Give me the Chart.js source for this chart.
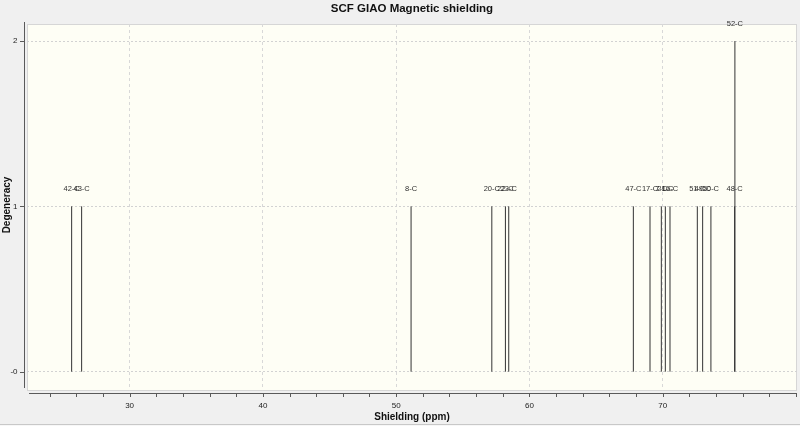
<!DOCTYPE html>
<html>
<head>
<meta charset="utf-8">
<script src="https://cdn.jsdelivr.net/npm/chart.js@4.4.1/dist/chart.umd.min.js"></script>
<style>
html,body{margin:0;padding:0;background:#f0f0f0;}
#wrap{width:800px;height:426px;position:relative;}
canvas{display:block;}
</style>
</head>
<body>
<div id="wrap"><canvas id="c" width="800" height="426"></canvas></div>
<script>
// ---- data ----
const atomLabels = ["42-C","43-C","8-C","20-C","22-C","23-C","47-C","17-C","7-C","21-C","16-C","51-C","49-C","50-C","48-C","52-C"];
const shieldings = [25.65,26.4,51.12,57.18,58.2,58.45,67.8,69.05,69.9,70.2,70.55,72.6,73.0,73.62,75.4,75.42];
const degeneracy = [1,1,1,1,1,1,1,1,1,1,1,1,1,1,1,2];
const xTickLabels = [30,40,50,60,70];
const yTickLabels = [0,1,2];
const yTickText = ["-0","1","2"];

const titleText = "SCF GIAO Magnetic shielding";
const xTitle = "Shielding (ppm)";
const yTitle = "Degeneracy";

// stick segments built from the arrays (null breaks the line between sticks)
const stickData = [];
shieldings.forEach((s, i) => {
  stickData.push({x: s, y: 0});
  stickData.push({x: s, y: degeneracy[i]});
  stickData.push({x: s, y: null});
});

const FONT = '"Liberation Sans", Arial, sans-serif';

const decor = {
  id: 'decor',
  beforeDraw(chart) {
    const {ctx, chartArea: a} = chart;
    ctx.save();
    ctx.fillStyle = '#f0f0f0';
    ctx.fillRect(0, 0, chart.width, chart.height);
    ctx.fillStyle = '#fefef5';
    ctx.fillRect(a.left, a.top, a.right - a.left, a.bottom - a.top);
    ctx.strokeStyle = '#d6d6d6';
    ctx.lineWidth = 1;
    ctx.strokeRect(a.left + 0.5, a.top + 0.5, a.right - a.left - 1, a.bottom - a.top - 1);
    ctx.restore();
  },
  afterDraw(chart) {
    const {ctx, chartArea: a, scales} = chart;
    const xs = scales.x, ys = scales.y;
    ctx.save();
    // axis lines, drawn just outside the plot box
    ctx.strokeStyle = '#5a5a5a';
    ctx.lineWidth = 1;
    const yAxisX = a.left - 2.5;
    const xAxisY = a.bottom + 2.5;
    ctx.beginPath();
    ctx.moveTo(yAxisX, a.top - 2);
    ctx.lineTo(yAxisX, a.bottom - 3);
    ctx.moveTo(a.left + 2, xAxisY);
    ctx.lineTo(a.right, xAxisY);
    ctx.stroke();
    // y ticks
    ctx.beginPath();
    yTickLabels.forEach(v => {
      const py = Math.round(ys.getPixelForValue(v)) + 0.5;
      ctx.moveTo(yAxisX - 4.5, py);
      ctx.lineTo(yAxisX, py);
    });
    // x ticks (major and minor every 2 ppm)
    for (let v = Math.ceil(xs.min / 2) * 2; v <= xs.max; v += 2) {
      const px = Math.round(xs.getPixelForValue(v)) + 0.5;
      ctx.moveTo(px, xAxisY);
      ctx.lineTo(px, xAxisY + 3.5);
    }
    ctx.stroke();
    // tick labels
    ctx.fillStyle = '#222';
    ctx.font = '8px ' + FONT;
    ctx.textAlign = 'right';
    ctx.textBaseline = 'middle';
    yTickLabels.forEach((v, i) => {
      ctx.fillText(yTickText[i], yAxisX - 7, ys.getPixelForValue(v));
    });
    ctx.textAlign = 'center';
    xTickLabels.forEach(v => {
      ctx.fillText(String(v), xs.getPixelForValue(v), 406);
    });
    // axis titles
    ctx.fillStyle = '#111';
    ctx.font = 'bold 10px ' + FONT;
    ctx.fillText(xTitle, (a.left + a.right) / 2, 417);
    ctx.save();
    ctx.translate(7, 205);
    ctx.rotate(-Math.PI / 2);
    ctx.fillText(yTitle, 0, 0);
    ctx.restore();
    // title
    ctx.font = 'bold 11.5px ' + FONT;
    ctx.fillText(titleText, (a.left + a.right) / 2, 9);
    // stick labels
    ctx.fillStyle = '#2e2e2e';
    ctx.font = '7.5px ' + FONT;
    shieldings.forEach((s, i) => {
      ctx.fillText(atomLabels[i], xs.getPixelForValue(s), ys.getPixelForValue(degeneracy[i]) - 17);
    });
    // window bottom edge
    ctx.strokeStyle = '#c8c8c8';
    ctx.beginPath();
    ctx.moveTo(0, 424.5);
    ctx.lineTo(800, 424.5);
    ctx.stroke();
    ctx.fillStyle = '#f7f7f7';
    ctx.fillRect(0, 425, 800, 1);
    ctx.restore();
  }
};

new Chart(document.getElementById('c'), {
  type: 'scatter',
  data: {
    datasets: [{
      data: stickData,
      showLine: true,
      spanGaps: false,
      borderColor: '#333333',
      borderWidth: 1,
      pointRadius: 0,
      pointHoverRadius: 0,
      tension: 0
    }]
  },
  options: {
    responsive: false,
    animation: false,
    devicePixelRatio: 1,
    layout: {padding: {left: 27, top: 24, right: 3, bottom: 35}},
    plugins: {legend: {display: false}, tooltip: {enabled: false}, title: {display: false}},
    scales: {
      x: {
        type: 'linear',
        min: 22.3,
        max: 80.08,
        afterBuildTicks: (s) => { s.ticks = xTickLabels.map(v => ({value: v})); },
        ticks: {display: false},
        grid: {color: '#d8d8d8', lineWidth: 1, drawTicks: false},
        border: {display: false, dash: [3, 3]},
        title: {display: false}
      },
      y: {
        type: 'linear',
        min: -0.117,
        max: 2.103,
        afterBuildTicks: (s) => { s.ticks = yTickLabels.map(v => ({value: v})); },
        ticks: {display: false},
        grid: {color: '#d2d2d2', lineWidth: 1, drawTicks: false},
        border: {display: false, dash: [2, 2]},
        title: {display: false}
      }
    }
  },
  plugins: [decor]
});
</script>
</body>
</html>
